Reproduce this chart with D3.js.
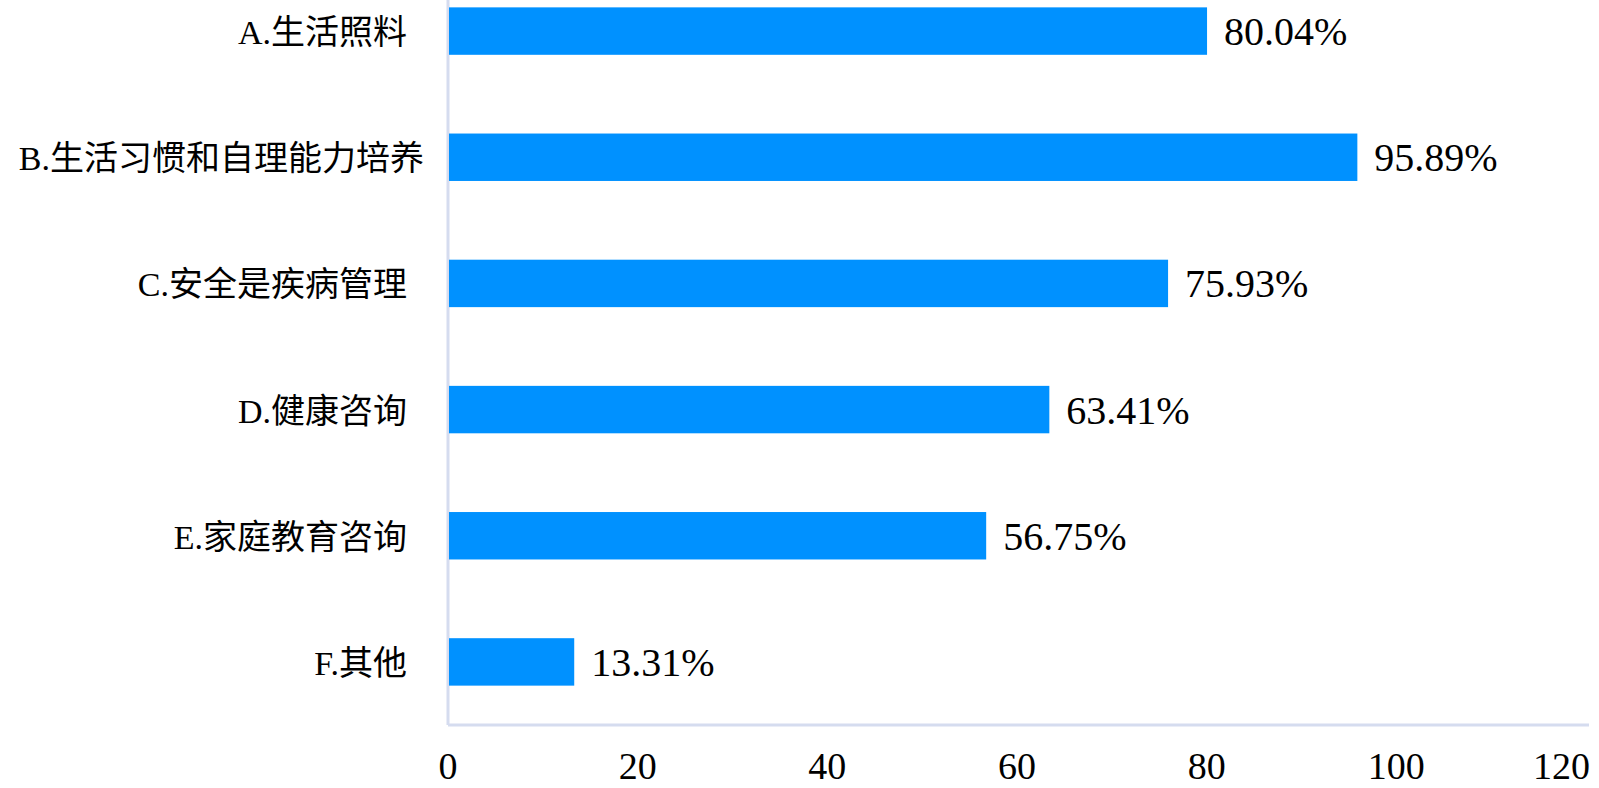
<!DOCTYPE html>
<html>
<head>
<meta charset="utf-8">
<script src="https://cdn.jsdelivr.net/npm/d3@7"></script>
<style>
  body { margin: 0; background: #fff; }
  text { white-space: pre; font-family: "Liberation Serif", "DejaVu Serif", serif; }
  .cat { font-family: "Liberation Serif", "Noto Sans CJK SC", serif; }
</style>
</head>
<body>
<svg id="chart" width="1599" height="788"></svg>
<script>
"use strict";

// categories (trailing spaces as in the original labels)
var categories = ["A.生活照料  ", "B.生活习惯和自理能力培养", "C.安全是疾病管理  ",
                  "D.健康咨询  ", "E.家庭教育咨询  ", "F.其他  "];
var values = [80.04, 95.89, 75.93, 63.41, 56.75, 13.31];
var ticks = [0, 20, 40, 60, 80, 100, 120];

var svg = d3.select("#chart");
var plotLeft = 448, plotRight = 1586, plotBottom = 725, plotTop = -32;

var x = d3.scaleLinear().domain([0, 120]).range([plotLeft, plotRight]);
var y = d3.scaleBand().domain(categories).range([plotTop, plotBottom]).paddingInner(0.624).paddingOuter(0.312);

// axis lines
svg.append("line")
  .attr("x1", plotLeft).attr("x2", plotLeft)
  .attr("y1", 0).attr("y2", plotBottom)
  .attr("stroke", "#d5dcef").attr("stroke-width", 3);
svg.append("line")
  .attr("x1", plotLeft).attr("x2", plotRight + 3)
  .attr("y1", plotBottom).attr("y2", plotBottom)
  .attr("stroke", "#d5dcef").attr("stroke-width", 3);

// bars
svg.selectAll(".bar")
  .data(values)
  .enter()
  .append("rect")
  .attr("class", "bar")
  .attr("x", plotLeft + 1)
  .attr("y", function(d, i) { return y(categories[i]); })
  .attr("width", function(d) { return x(d) - plotLeft - 1; })
  .attr("height", y.bandwidth())
  .attr("fill", "#0091ff");

// value labels
svg.selectAll(".val")
  .data(values)
  .enter()
  .append("text")
  .attr("class", "val")
  .attr("x", function(d) { return x(d) + 17; })
  .attr("y", function(d, i) { return y(categories[i]) + y.bandwidth() / 2 + 14; })
  .style("font-size", "40px")
  .style("fill", "#000")
  .text(function(d) { return d.toFixed(2) + "%"; });

// category labels
svg.selectAll(".cat")
  .data(categories)
  .enter()
  .append("text")
  .attr("class", "cat")
  .attr("x", 424)
  .attr("y", function(d) { return y(d) + y.bandwidth() / 2 + 13; })
  .attr("text-anchor", "end")
  .style("font-size", "34px")
  .style("fill", "#000")
  .text(function(d) { return d; });

// tick labels
svg.selectAll(".tick")
  .data(ticks)
  .enter()
  .append("text")
  .attr("class", "tick")
  .attr("x", function(d, i) { return i === ticks.length - 1 ? 1590 : x(d); })
  .attr("y", 779)
  .attr("text-anchor", function(d, i) { return i === ticks.length - 1 ? "end" : "middle"; })
  .style("font-size", "38px")
  .style("fill", "#000")
  .text(function(d) { return d; });
</script>
</body>
</html>
